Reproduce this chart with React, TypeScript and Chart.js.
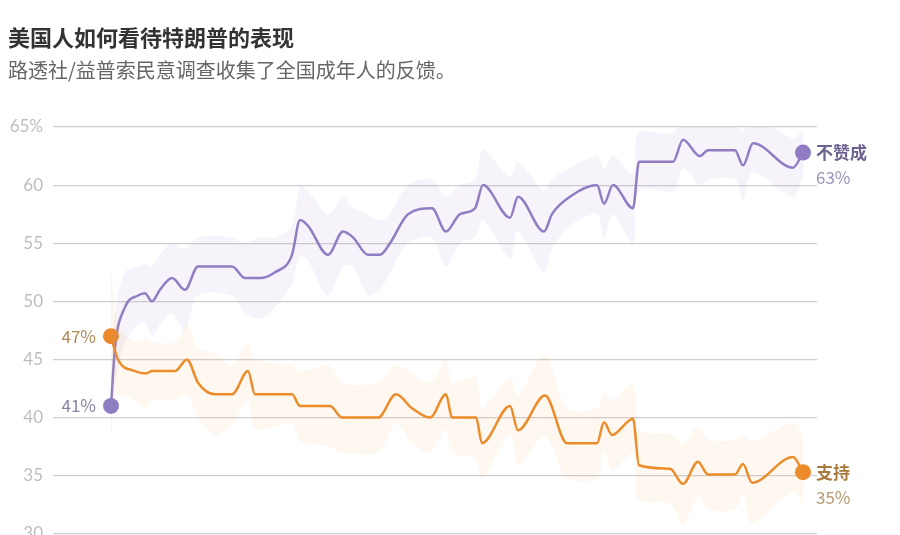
import { useEffect, useRef } from 'react';
import Chart from 'chart.js/auto';

// x in days from start
const disX = [0, 4, 14, 27, 34, 41, 49, 61, 74, 87, 121, 134, 149, 164, 181, 189, 197, 217, 232, 242, 257, 269, 279, 297, 321, 335, 349, 364, 372, 399, 407, 433, 441, 459, 486, 493, 502, 522, 528, 562, 572, 589, 597, 624, 632, 642, 682, 692];
const disapprove = [41, 46, 49.5, 50.5, 50.7, 50, 51, 52, 51, 53, 53, 52, 52, 52.5, 54, 57, 56.5, 54, 56, 55.5, 54, 54, 55, 57.5, 58, 56, 57.5, 58, 60, 57.2, 59, 56, 57.5, 59, 60, 58.4, 60, 58, 62, 62, 63.9, 62.5, 63, 63, 61.7, 63.6, 61.5, 62.8];
const disMargin = [3, 3, 3, 2.5, 2.5, 3, 3, 3, 3.5, 2.5, 2.5, 3, 3.5, 3, 2.5, 3, 3, 3.5, 3, 2.5, 3.5, 3, 2.5, 2.5, 2.5, 3, 2.5, 2.5, 3, 3.5, 3, 3.5, 3, 2.5, 2.5, 3, 2.5, 3, 2.5, 2.5, 2.5, 2.5, 2.5, 2.5, 3, 2.5, 2.5, 2];

const appX = [0, 7, 24, 35, 41, 64, 76, 87, 104, 121, 137, 144, 181, 189, 219, 231, 267, 285, 301, 319, 335, 341, 365, 371, 399, 407, 434, 456, 486, 493, 501, 522, 528, 559, 572, 587, 597, 624, 632, 641, 682, 692];
const approve = [47, 45, 44, 43.8, 44, 44, 45, 43, 42, 42, 44, 42, 42, 41, 41, 40, 40, 42, 40.8, 40, 42, 40, 40, 37.8, 41, 38.9, 41.9, 37.8, 37.8, 39.6, 38.5, 39.9, 35.9, 35.6, 34.3, 36.2, 35.1, 35.1, 36, 34.4, 36.6, 35.3];
const appMargin = [6, 3, 2.5, 3, 2.5, 2.5, 3, 3, 3.5, 2.5, 2.5, 3, 2.5, 3, 3.5, 3, 3, 2.5, 3, 3, 3, 3, 3.5, 3, 2.5, 3, 3.5, 3, 3, 2.5, 3, 3, 3, 3, 3.5, 3, 3, 3, 2.5, 3.5, 3, 3];

const yTicks = [30, 35, 40, 45, 50, 55, 60, 65];

const PURPLE = '#8f7dc4';
const ORANGE = '#ec8a2a';

const pts = (xs: number[], ys: number[]) => xs.map((x, i) => ({ x, y: ys[i] }));

const App = () => {
  const canvas = useRef<HTMLCanvasElement>(null);

  useEffect(() => {
    const endLabels = {
      id: 'endLabels',
      afterDatasetsDraw(chart: any) {
        const { ctx, scales } = chart;
        const xs = scales.x;
        const ys = scales.y;
        ctx.save();
        const font = '"Noto Sans CJK SC", "Noto Sans", sans-serif';
        ctx.textAlign = 'right';
        ctx.textBaseline = 'middle';
        ctx.font = `17px ${font}`;
        ctx.fillStyle = '#b08a55';
        ctx.fillText(approve[0] + '%', xs.getPixelForValue(0) - 15, ys.getPixelForValue(approve[0]));
        ctx.fillStyle = '#8a82a8';
        ctx.fillText(disapprove[0] + '%', xs.getPixelForValue(0) - 15, ys.getPixelForValue(disapprove[0]));
        const ex = xs.getPixelForValue(disX[disX.length - 1]) + 13;
        ctx.textAlign = 'left';
        ctx.font = `bold 17px ${font}`;
        ctx.fillStyle = '#6e6390';
        let yy = ys.getPixelForValue(disapprove[disapprove.length - 1]);
        ctx.fillText('不赞成', ex, yy);
        ctx.font = `17px ${font}`;
        ctx.fillStyle = '#9a93b5';
        ctx.fillText('63%', ex, yy + 25);
        yy = ys.getPixelForValue(approve[approve.length - 1]);
        ctx.font = `bold 17px ${font}`;
        ctx.fillStyle = '#a77a3c';
        ctx.fillText('支持', ex, yy);
        ctx.font = `17px ${font}`;
        ctx.fillStyle = '#b59a73';
        ctx.fillText('35%', ex, yy + 25);
        ctx.restore();
      },
    };

    const endRadius = (n: number) => Array.from({ length: n }, (_, i) => (i === 0 || i === n - 1 ? 8 : 0));

    const chart = new Chart(canvas.current as HTMLCanvasElement, {
      type: 'line',
      data: {
        datasets: [
          { data: pts(disX, disapprove.map((v, i) => v + disMargin[i])), borderWidth: 0, pointRadius: 0, fill: '+1', backgroundColor: 'rgba(150,130,205,0.09)', tension: 0.3 },
          { data: pts(disX, disapprove.map((v, i) => v - disMargin[i])), borderWidth: 0, pointRadius: 0, fill: false, tension: 0.3 },
          { data: pts(appX, approve.map((v, i) => v + appMargin[i])), borderWidth: 0, pointRadius: 0, fill: '+1', backgroundColor: 'rgba(245,160,70,0.08)', tension: 0.3 },
          { data: pts(appX, approve.map((v, i) => v - appMargin[i])), borderWidth: 0, pointRadius: 0, fill: false, tension: 0.3 },
          { data: pts(appX, approve), borderColor: ORANGE, backgroundColor: ORANGE, borderWidth: 2.5, pointRadius: endRadius(appX.length), pointBorderWidth: 0, cubicInterpolationMode: 'monotone', fill: false },
          { data: pts(disX, disapprove), borderColor: PURPLE, backgroundColor: PURPLE, borderWidth: 2.5, pointRadius: endRadius(disX.length), pointBorderWidth: 0, cubicInterpolationMode: 'monotone', fill: false },
        ],
      },
      options: {
        animation: false,
        responsive: false,
        layout: { padding: { top: 127, right: 83, bottom: 0, left: 0 } },
        plugins: { legend: { display: false }, tooltip: { enabled: false } },
        scales: {
          x: { type: 'linear', min: -58, max: 706, display: false },
          y: {
            min: 30, max: 65,
            afterFit: (s: any) => { s.width = 53; },
            afterBuildTicks: (s: any) => { s.ticks = yTicks.map(v => ({ value: v })); },
            border: { display: false },
            grid: { color: '#cfcfcf', lineWidth: 1.2, drawTicks: false },
            ticks: {
              padding: 10,
              color: '#bdbdbd',
              font: { size: 17, family: 'Lato, "Noto Sans", sans-serif' },
              callback: (v: any) => (v === 65 ? '65%' : String(v)),
            },
          },
        },
      },
      plugins: [endLabels],
    } as any);

    return () => {
      chart.destroy();
    };
  }, []);

  return (
    <div style={{ position: 'fixed', left: 0, top: 0, width: 900, height: 535, background: '#fff', overflow: 'hidden' }}>
      <canvas ref={canvas} width={900} height={554} style={{ position: 'absolute', left: 0, top: 0 }} />
      <div style={{ position: 'absolute', left: 8, top: 20, fontFamily: '"Noto Sans CJK SC", sans-serif', fontWeight: 'bold', fontSize: 22, color: '#333' }}>
        美国人如何看待特朗普的表现
      </div>
      <div style={{ position: 'absolute', left: 8, top: 55, fontFamily: '"Noto Sans CJK SC", sans-serif', fontSize: 20, color: '#666' }}>
        路透社/益普索民意调查收集了全国成年人的反馈。
      </div>
    </div>
  );
};

export default App;
